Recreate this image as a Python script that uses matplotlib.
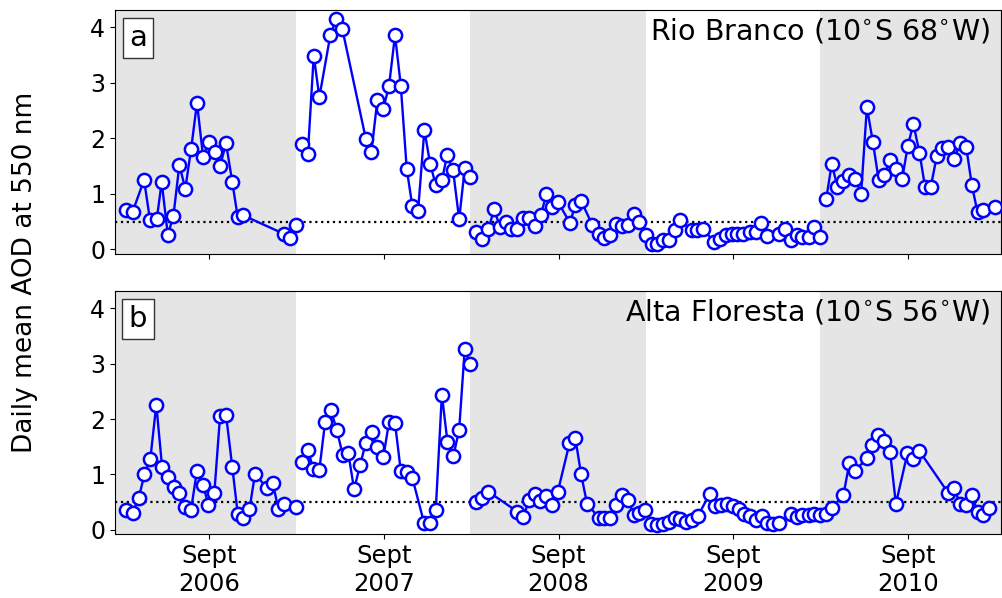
import matplotlib
matplotlib.use("Agg")
import matplotlib.pyplot as plt

# time in decimal years, one sub-list per burning season (Mar-Feb)
rb_t = [
    [2006.192, 2006.230, 2006.295, 2006.329, 2006.368, 2006.396, 2006.431, 2006.463, 2006.497, 2006.531,
     2006.564, 2006.598, 2006.633, 2006.665, 2006.700, 2006.730, 2006.764, 2006.800, 2006.831, 2006.863,
     2007.094, 2007.129, 2007.163],
    [2007.197, 2007.232, 2007.266, 2007.298, 2007.361, 2007.394, 2007.430, 2007.564, 2007.596, 2007.630,
     2007.664, 2007.697, 2007.731, 2007.764, 2007.798, 2007.830, 2007.863, 2007.899, 2007.932, 2007.964,
     2007.999, 2008.029, 2008.063, 2008.098, 2008.130, 2008.160],
    [2008.195, 2008.229, 2008.265, 2008.298, 2008.331, 2008.365, 2008.397, 2008.431, 2008.462, 2008.498,
     2008.531, 2008.565, 2008.597, 2008.630, 2008.662, 2008.733, 2008.761, 2008.796, 2008.860, 2008.899,
     2008.929, 2008.962, 2008.996, 2009.030, 2009.063, 2009.099, 2009.129, 2009.166],
    [2009.200, 2009.229, 2009.263, 2009.298, 2009.332, 2009.362, 2009.429, 2009.460, 2009.494, 2009.559,
     2009.593, 2009.624, 2009.658, 2009.690, 2009.725, 2009.763, 2009.796, 2009.828, 2009.862, 2009.931,
     2009.963, 2009.996, 2010.034, 2010.062, 2010.097, 2010.131, 2010.163],
    [2010.198, 2010.230, 2010.262, 2010.297, 2010.331, 2010.365, 2010.398, 2010.431, 2010.465, 2010.499,
     2010.531, 2010.564, 2010.598, 2010.633, 2010.665, 2010.697, 2010.732, 2010.764, 2010.797, 2010.831,
     2010.863, 2010.898, 2010.930, 2010.965, 2010.999, 2011.032, 2011.064, 2011.098, 2011.165],
]
rb_aod = [
    [0.71, 0.68, 1.25, 0.53, 0.55, 1.21, 0.26, 0.60, 1.52, 1.09,
     1.80, 2.64, 1.66, 1.93, 1.75, 1.50, 1.91, 1.21, 0.58, 0.61,
     0.28, 0.20, 0.43],
    [1.89, 1.71, 3.49, 2.74, 3.86, 4.14, 3.96, 1.99, 1.76, 2.69,
     2.53, 2.95, 3.86, 2.95, 1.45, 0.78, 0.69, 2.15, 1.54, 1.16,
     1.24, 1.69, 1.43, 0.54, 1.46, 1.31],
    [0.32, 0.19, 0.36, 0.72, 0.41, 0.50, 0.37, 0.37, 0.56, 0.56,
     0.42, 0.61, 0.99, 0.77, 0.86, 0.47, 0.80, 0.87, 0.44, 0.27,
     0.20, 0.26, 0.45, 0.42, 0.44, 0.63, 0.50, 0.26],
    [0.09, 0.09, 0.16, 0.17, 0.35, 0.53, 0.34, 0.34, 0.36, 0.13,
     0.18, 0.26, 0.27, 0.28, 0.28, 0.31, 0.31, 0.47, 0.24, 0.28,
     0.36, 0.17, 0.26, 0.22, 0.23, 0.40, 0.22],
    [0.90, 1.54, 1.13, 1.23, 1.33, 1.27, 1.00, 2.56, 1.94, 1.24,
     1.34, 1.60, 1.44, 1.27, 1.86, 2.26, 1.74, 1.12, 1.13, 1.68,
     1.82, 1.85, 1.63, 1.91, 1.85, 1.15, 0.67, 0.71, 0.76],
]

af_t = [
    [2006.192, 2006.230, 2006.265, 2006.297, 2006.331, 2006.365, 2006.398, 2006.432, 2006.465, 2006.497,
     2006.530, 2006.564, 2006.597, 2006.633, 2006.663, 2006.697, 2006.730, 2006.764, 2006.800, 2006.831,
     2006.863, 2006.898, 2006.930, 2006.997, 2007.032, 2007.064, 2007.096, 2007.163],
    [2007.197, 2007.232, 2007.264, 2007.298, 2007.331, 2007.363, 2007.398, 2007.432, 2007.464, 2007.497,
     2007.531, 2007.564, 2007.598, 2007.630, 2007.664, 2007.697, 2007.731, 2007.764, 2007.798, 2007.830,
     2007.897, 2007.932, 2007.964, 2007.999, 2008.031, 2008.065, 2008.098, 2008.130, 2008.160],
    [2008.195, 2008.229, 2008.264, 2008.431, 2008.466, 2008.498, 2008.531, 2008.563, 2008.597, 2008.630,
     2008.662, 2008.729, 2008.763, 2008.796, 2008.830, 2008.897, 2008.929, 2008.963, 2008.996, 2009.030,
     2009.065, 2009.097, 2009.129, 2009.164],
    [2009.198, 2009.232, 2009.265, 2009.298, 2009.332, 2009.364, 2009.397, 2009.431, 2009.464, 2009.532,
     2009.563, 2009.597, 2009.630, 2009.664, 2009.698, 2009.730, 2009.763, 2009.797, 2009.830, 2009.862,
     2009.896, 2009.931, 2009.996, 2010.030, 2010.062, 2010.097, 2010.129, 2010.163],
    [2010.196, 2010.230, 2010.297, 2010.331, 2010.364, 2010.431, 2010.463, 2010.497, 2010.531, 2010.564,
     2010.597, 2010.663, 2010.697, 2010.730, 2010.898, 2010.930, 2010.965, 2010.999, 2011.032, 2011.064,
     2011.098, 2011.132],
]
af_aod = [
    [0.36, 0.31, 0.58, 1.00, 1.28, 2.26, 1.14, 0.95, 0.78, 0.66,
     0.42, 0.36, 1.06, 0.81, 0.45, 0.66, 2.06, 2.08, 1.13, 0.29,
     0.21, 0.37, 1.01, 0.76, 0.84, 0.37, 0.47, 0.41],
    [1.22, 1.45, 1.09, 1.08, 1.95, 2.17, 1.80, 1.35, 1.38, 0.73,
     1.17, 1.57, 1.77, 1.49, 1.31, 1.95, 1.93, 1.06, 1.05, 0.94,
     0.13, 0.12, 0.35, 2.44, 1.59, 1.33, 1.81, 3.27, 2.99],
    [0.51, 0.58, 0.69, 0.33, 0.24, 0.54, 0.64, 0.53, 0.62, 0.45,
     0.68, 1.56, 1.65, 1.00, 0.47, 0.22, 0.21, 0.21, 0.45, 0.63,
     0.54, 0.27, 0.31, 0.35],
    [0.11, 0.09, 0.11, 0.15, 0.22, 0.19, 0.15, 0.17, 0.25, 0.65,
     0.43, 0.45, 0.46, 0.43, 0.38, 0.28, 0.25, 0.17, 0.25, 0.12,
     0.11, 0.13, 0.28, 0.24, 0.27, 0.27, 0.29, 0.27],
    [0.29, 0.39, 0.63, 1.21, 1.07, 1.29, 1.53, 1.71, 1.60, 1.40,
     0.47, 1.38, 1.27, 1.43, 0.66, 0.75, 0.47, 0.44, 0.63, 0.33,
     0.27, 0.40],
]

season_edges = [2006.0, 2007.165, 2008.162, 2009.168, 2010.160, 2011.5]
tick_pos = [2006.667, 2007.667, 2008.667, 2009.667, 2010.667]
tick_labels = ["Sept\n2006", "Sept\n2007", "Sept\n2008", "Sept\n2009", "Sept\n2010"]
threshold = 0.5

fig = plt.figure(figsize=(10.03, 5.98), dpi=100)
ax1 = fig.add_axes([0.1147, 0.5757, 0.8834, 0.4075])
ax2 = fig.add_axes([0.1147, 0.1065, 0.8834, 0.4069])

panels = [(ax1, rb_t, rb_aod, "a", "Rio Branco (10$^{\\circ}$S 68$^{\\circ}$W)"),
          (ax2, af_t, af_aod, "b", "Alta Floresta (10$^{\\circ}$S 56$^{\\circ}$W)")]

for ax, tt, vv, letter, site in panels:
    for i in range(0, len(season_edges) - 1, 2):
        ax.axvspan(season_edges[i], season_edges[i + 1], color="#e5e5e5", lw=0, zorder=0)
    ax.axhline(threshold, color="k", ls=":", lw=1.6, zorder=1)
    for t, v in zip(tt, vv):
        ax.plot(t, v, "-o", color="blue", lw=1.7, ms=9.5, mfc="white",
                mec="blue", mew=1.8, zorder=3)
    ax.set_xlim(2006.129, 2011.199)
    ax.set_ylim(-0.08, 4.31)
    ax.set_yticks([0, 1, 2, 3, 4])
    ax.set_xticks(tick_pos)
    ax.tick_params(axis="y", labelsize=17)
    ax.tick_params(axis="x", labelsize=17.5)
    ax.text(0.988, 0.972, site, transform=ax.transAxes, ha="right", va="top",
            fontsize=20.5, zorder=5)
    ax.text(0.026, 0.885, letter, transform=ax.transAxes, ha="center", va="center",
            fontsize=21, zorder=5,
            bbox=dict(boxstyle="square,pad=0.22", fc="white", ec="#333333", lw=1))

ax1.set_xticklabels([])
ax2.set_xticklabels(tick_labels)

fig.text(0.025, 0.545, "Daily mean AOD at 550 nm", rotation=90, ha="center",
         va="center", fontsize=19)

fig.savefig("out.png", dpi=100)
